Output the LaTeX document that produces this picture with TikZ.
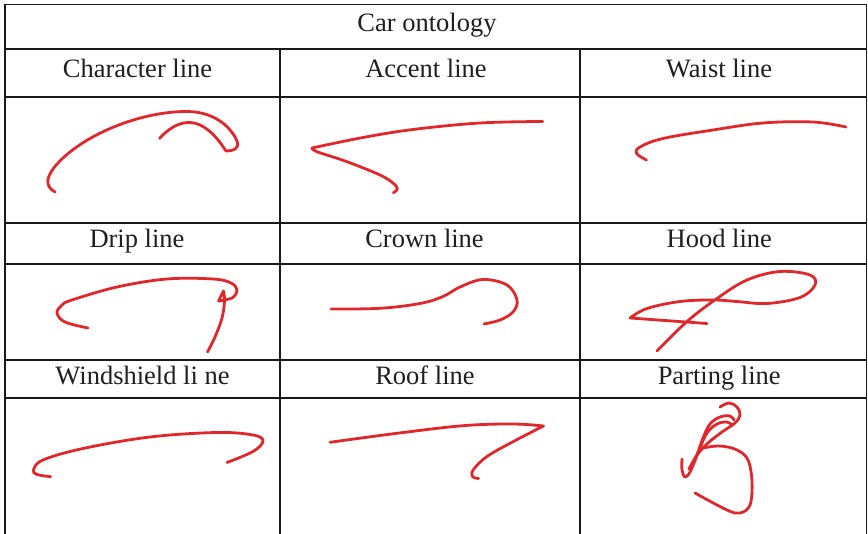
\documentclass[tikz,border=0pt]{standalone}
\usepackage{fontspec}
\setmainfont{Liberation Serif}
\begin{document}
\begin{tikzpicture}[x=1pt,y=-1pt,
  grid/.style={draw=black!90, line width=1.8pt, line cap=rect},
  head/.style={anchor=base, inner sep=0pt, text=black!88,
    font=\fontsize{26.5}{30}\selectfont},
  stroke/.style={draw=sketchred, line width=2.8pt, line cap=round, line join=round},
  sm/.style={smooth, tension=0.6}]
\definecolor{sketchred}{HTML}{E0282C}
\useasboundingbox (0,0) rectangle (868,534);

% table frame
\coordinate (tl) at (5,4.5);
\coordinate (tr) at (866.5,4.5);
\coordinate (bl) at (5,540);
\coordinate (br) at (866.5,540);
\draw[grid] (bl) -- (tl) -- (tr) -- (br);
\foreach \yy in {49,97,223,264,360,398}
  \draw[grid] (5,\yy) -- (866.5,\yy);
\foreach \xx in {280,580}
  \draw[grid] (\xx,49) -- (\xx,540);

% headings
\node[head] (title) at (427,31.5) {Car ontology};
\node[head] (h1) at (137.5,77.5) {Character line};
\node[head] (h2) at (426,77.5) {Accent line};
\node[head] (h3) at (719,77.5) {Waist line};
\node[head] (h4) at (137,248) {Drip line};
\node[head] (h5) at (424.5,248) {Crown line};
\node[head] (h6) at (719.3,248) {Hood line};
\node[head] (h7) at (142.5,385) {Windshield li ne};
\node[head] (h8) at (425,385) {Roof line};
\node[head] (h9) at (719.2,385) {Parting line};

% character line: one long arc, a hook, then the inner return curve
\draw[stroke] (55,192) .. controls (44,186) and (46,176) .. (58,163)
  .. controls (85,134) and (140,112) .. (185,111.5)
  .. controls (212,111) and (230,125) .. (237,141)
  .. controls (240,149) and (233,151) .. (226,151)
  .. controls (215,134) and (203,123) .. (190,122.5)
  .. controls (178,122) and (167,130) .. (159.5,138.5);

% accent line
\draw[stroke] plot[sm] coordinates {(542.7,121.5) (480,123) (413,129.5) (363,137.5) (312,148)}
  -- plot[sm] coordinates {(312,148) (317,151.7) (347,161.7) (380,175) (393.3,183.3) (397.3,189) (393.3,192.7)};

% waist line
\draw[stroke] plot[sm] coordinates {(846,127) (813,122) (763,123) (713,130) (663,138.5) (640,147) (636.5,153.5) (646.5,160)};

% drip line
\draw[stroke] plot[sm] coordinates {(88,328) (65,322) (57,313) (62,305) (72,300) (117,287) (167,279) (213,279) (231,283) (237,290) (233.5,297) (225,300) (218.5,301)}
  -- (223.5,291)
  -- plot[sm] coordinates {(223.5,291) (224.5,301) (222,318) (215,337) (207.5,352)};

% crown line
\draw[stroke] plot[sm] coordinates {(331,309) (380,308.3) (420,303.5) (443,296.5) (460,287) (483,279.5) (507,285) (517,300) (513,312) (500,320) (484,324)};

% hood line
\draw[stroke] (707,323.5) -- (630,318)
  -- plot[sm] coordinates {(630,318) (647,308.5) (680,301.5) (713,300) (737,301.5) (767,303.5) (800,297.5) (815,285) (810,275) (780,271.5) (747,280) (717,298.5) (687,321.5) (657,351)};

% windshield line
\draw[stroke] plot[sm] coordinates {(50.7,476.7) (37,474.5) (33.5,470) (43,460) (83,448.5) (150,437) (217,432.5) (253,435) (263,441) (253,451.5) (227,462.5)};

% roof line
\draw[stroke] plot[sm] coordinates {(330,442.3) (397,433.3) (463,425.7) (513,424) (543.5,426)}
  -- plot[sm] coordinates {(543.5,426) (513,441.7) (487,456.5) (473.5,469.5) (472.5,476.5) (478.5,478.5)};

% parting line
\draw[stroke] plot[sm] coordinates {(720,407) (729,403) (737,407) (740,415) (735,423) (722,432) (708,443) (697,455) (689,469)};
\draw[stroke] plot[sm] coordinates {(682,459) (682,470) (685,477) (690,472) (697,455) (703,438) (710,424) (720,417) (730,416) (734,420)};
\draw[stroke] plot[sm] coordinates {(693,465) (700,448) (707,433) (717,424) (727,422) (732,425)};
\draw[stroke] plot[sm] coordinates {(703,448) (720,446) (737,450) (748,460) (752,482) (750,505) (740,513) (727,510) (695,493)};
\end{tikzpicture}
\end{document}
